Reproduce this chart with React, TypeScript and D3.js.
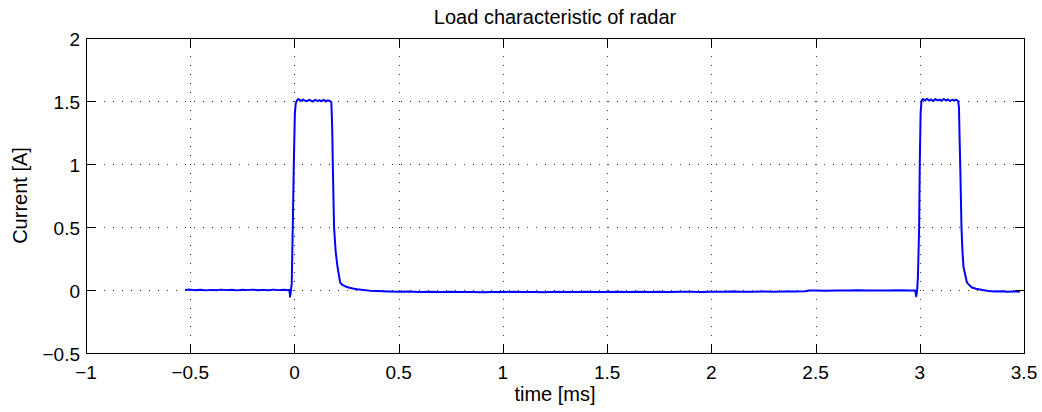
import React from "react";
import * as d3 from "d3";

// ---- data (time in ms, current in A) ----
const preBaseline: [number, number][] = [
  [-0.525, 0.0], [-0.5, 0.003], [-0.475, -0.002], [-0.45, 0.002], [-0.425, -0.003],
  [-0.4, 0.001], [-0.375, -0.002], [-0.35, 0.003], [-0.325, -0.001], [-0.3, 0.002],
  [-0.275, -0.003], [-0.25, 0.002], [-0.225, -0.001], [-0.2, 0.003], [-0.175, -0.002],
  [-0.15, 0.001], [-0.125, -0.002], [-0.1, 0.003], [-0.075, -0.001], [-0.05, 0.002],
  [-0.03, -0.002],
];

const pulse1: [number, number][] = [
  [-0.024, 0.001], [-0.021, -0.053], [-0.017, -0.01], [-0.013, 0.05], [-0.008, 0.5],
  [-0.003, 1.0], [0.002, 1.4], [0.006, 1.48], [0.012, 1.505], [0.02, 1.515],
  [0.03, 1.5], [0.04, 1.512], [0.05, 1.503], [0.06, 1.498], [0.07, 1.51],
  [0.08, 1.502], [0.09, 1.496], [0.1, 1.51], [0.11, 1.5], [0.12, 1.506],
  [0.13, 1.498], [0.14, 1.51], [0.15, 1.497], [0.16, 1.505], [0.17, 1.5],
  [0.177, 1.49], [0.181, 1.3], [0.184, 1.0], [0.187, 0.75], [0.19, 0.5],
  [0.198, 0.3], [0.207, 0.18], [0.219, 0.06], [0.23, 0.04], [0.245, 0.028],
  [0.26, 0.02], [0.28, 0.012], [0.3, 0.006], [0.33, 0.0], [0.36, -0.005],
];

const interPulse: [number, number][] = [
  [0.4, -0.008], [0.45, -0.011], [0.5, -0.013], [0.55, -0.012], [0.6, -0.015],
  [0.65, -0.014], [0.7, -0.016], [0.75, -0.014], [0.8, -0.016], [0.85, -0.015],
  [0.9, -0.017], [0.95, -0.015], [1.0, -0.016], [1.05, -0.014], [1.1, -0.016],
  [1.15, -0.015], [1.2, -0.017], [1.25, -0.014], [1.3, -0.015], [1.35, -0.016],
  [1.4, -0.014], [1.45, -0.016], [1.5, -0.015], [1.55, -0.014], [1.6, -0.016],
  [1.65, -0.014], [1.7, -0.015], [1.75, -0.013], [1.8, -0.015], [1.85, -0.014],
  [1.9, -0.013], [1.95, -0.015], [2.0, -0.013], [2.05, -0.014], [2.1, -0.012],
  [2.15, -0.014], [2.2, -0.013], [2.25, -0.012], [2.3, -0.013], [2.35, -0.011],
  [2.4, -0.012], [2.45, -0.01], [2.47, -0.004], [2.5, -0.003], [2.55, -0.005],
  [2.6, -0.003], [2.65, -0.004], [2.7, -0.002], [2.75, -0.004], [2.8, -0.003],
  [2.85, -0.004], [2.9, -0.002], [2.95, -0.004], [2.978, -0.003],
];

const pulse2: [number, number][] = [
  [2.983, -0.05], [2.987, -0.01], [2.991, 0.1], [2.997, 0.5], [3.0, 1.0],
  [3.004, 1.4], [3.008, 1.5], [3.015, 1.515], [3.025, 1.505], [3.035, 1.518],
  [3.045, 1.503], [3.055, 1.512], [3.065, 1.5], [3.075, 1.515], [3.085, 1.505],
  [3.095, 1.51], [3.105, 1.502], [3.115, 1.516], [3.125, 1.504], [3.135, 1.512],
  [3.145, 1.5], [3.155, 1.51], [3.165, 1.503], [3.175, 1.51], [3.184, 1.5],
  [3.188, 1.45], [3.191, 1.2], [3.194, 1.0], [3.197, 0.75], [3.2, 0.5],
  [3.205, 0.3], [3.21, 0.18], [3.226, 0.06], [3.24, 0.035], [3.25, 0.02],
  [3.27, 0.01], [3.3, 0.0],
];

const postBaseline: [number, number][] = [
  [3.33, -0.008], [3.36, -0.011], [3.39, -0.01], [3.42, -0.013], [3.45, -0.012],
  [3.48, -0.013],
];

const xTicks = [-1, -0.5, 0, 0.5, 1, 1.5, 2, 2.5, 3, 3.5];
const yTicks = [-0.5, 0, 0.5, 1, 1.5, 2];

const titleText = "Load characteristic of radar";
const xLabelText = "time [ms]";
const yLabelText = "Current [A]";

export default function App() {
  const left = 86, right = 1024, top = 38, bottom = 353;
  const x = d3.scaleLinear().domain([-1, 3.5]).range([left, right]);
  const y = d3.scaleLinear().domain([-0.5, 2]).range([bottom, top]);
  const data = [...preBaseline, ...pulse1, ...interPulse, ...pulse2, ...postBaseline];
  const line = d3.line<[number, number]>().x((d) => x(d[0])).y((d) => y(d[1]));
  const fmt = (v: number) => (v < 0 ? "\u2212" + String(-v) : String(v));
  const font = "'Liberation Sans', Arial, Helvetica, sans-serif";
  const tickLen = 9;

  return (
    <svg width={1042} height={412} style={{ position: "absolute", left: 0, top: 0, background: "#fff" }} fontFamily={font}>
      <rect x={0} y={0} width={1042} height={412} fill="#fff" />
      {/* grid */}
      <g stroke="#333" strokeWidth={1} strokeDasharray="1 8">
        {xTicks.slice(1, -1).map((t) => (
          <line key={"gx" + t} x1={Math.round(x(t)) + 0.5} x2={Math.round(x(t)) + 0.5} y1={top} y2={bottom} />
        ))}
        {yTicks.slice(1, -1).map((t) => (
          <line key={"gy" + t} x1={left} x2={right} y1={Math.round(y(t)) + 0.5} y2={Math.round(y(t)) + 0.5} />
        ))}
      </g>
      {/* data line */}
      <path d={line(data) || ""} fill="none" stroke="#0000ff" strokeWidth={2} strokeLinejoin="round" />
      {/* axes box */}
      <rect x={left + 0.5} y={top + 0.5} width={right - left} height={bottom - top} fill="none" stroke="#000" strokeWidth={1} />
      {/* ticks */}
      <g stroke="#000" strokeWidth={1}>
        {xTicks.map((t) => {
          const px = Math.round(x(t)) + 0.5;
          return (
            <g key={"tx" + t}>
              <line x1={px} x2={px} y1={bottom} y2={bottom - tickLen} />
              <line x1={px} x2={px} y1={top} y2={top + tickLen} />
            </g>
          );
        })}
        {yTicks.map((t) => {
          const py = Math.round(y(t)) + 0.5;
          return (
            <g key={"ty" + t}>
              <line x1={left} x2={left + tickLen} y1={py} y2={py} />
              <line x1={right} x2={right - tickLen} y1={py} y2={py} />
            </g>
          );
        })}
      </g>
      {/* tick labels */}
      <g fontSize={19} fill="#000">
        {xTicks.map((t) => (
          <text key={"lx" + t} x={x(t)} y={379} textAnchor="middle">{fmt(t)}</text>
        ))}
        {yTicks.map((t) => (
          <text key={"ly" + t} x={80} y={y(t) + 7.5} textAnchor="end">{fmt(t)}</text>
        ))}
      </g>
      {/* title and labels */}
      <text x={(left + right) / 2} y={24} textAnchor="middle" fontSize={20}>{titleText}</text>
      <text x={(left + right) / 2} y={401} textAnchor="middle" fontSize={20}>{xLabelText}</text>
      <text transform={`translate(27, ${(top + bottom) / 2}) rotate(-90)`} textAnchor="middle" fontSize={20}>{yLabelText}</text>
    </svg>
  );
}
